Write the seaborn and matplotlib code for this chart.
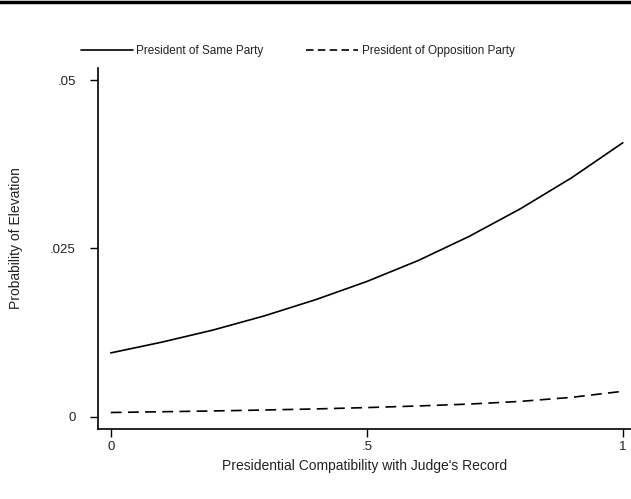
import numpy as np
import pandas as pd
import seaborn as sns
import matplotlib.pyplot as plt
from matplotlib.lines import Line2D

# values
compat = [0.0, 0.1, 0.2, 0.3, 0.4, 0.5, 0.6, 0.7, 0.8, 0.9, 1.0]
same_party = [0.0095, 0.0111, 0.0129, 0.0150, 0.0174, 0.0201, 0.0232, 0.0268, 0.0309, 0.0355, 0.0407]
opp_party = [0.00065, 0.00076, 0.00088, 0.00102, 0.00118, 0.00138, 0.00162, 0.0019, 0.0023, 0.0029, 0.0038]
x_ticks = [0, 0.5, 1]
x_tick_labels = ["0", ".5", "1"]
y_ticks = [0, 0.025, 0.05]
y_tick_labels = ["0", ".025", ".05"]

sns.set_theme(style="ticks")
plt.rcParams["font.family"] = ["Liberation Sans", "DejaVu Sans"]

df = pd.DataFrame({"compat": compat, "same": same_party, "opp": opp_party})

fig = plt.figure(figsize=(6.31, 4.99), dpi=100)
ax = fig.add_axes([98 / 631, 1 - 429 / 499, 1 - 98 / 631, (429 - 68) / 499])

sns.lineplot(data=df, x="compat", y="same", ax=ax, color="black", linewidth=1.2)
sns.lineplot(data=df, x="compat", y="opp", ax=ax, color="black", linewidth=1.2,
             linestyle=(0, (6.5, 3.8)))

ax.set_xlim(-0.025, 1.016)
ax.set_ylim(-0.0018, 0.0518)
ax.set_xticks(x_ticks)
ax.set_xticklabels(x_tick_labels)
ax.set_yticks(y_ticks)
ax.set_yticklabels(y_tick_labels)
ax.tick_params(axis="both", direction="out", length=6, width=1, colors="black",
               labelsize=9.5, labelcolor="#222222")
ax.tick_params(axis="y", pad=10)
ax.tick_params(axis="x", pad=3)
sns.despine(ax=ax)
for s in ["left", "bottom"]:
    ax.spines[s].set_linewidth(1.2)
    ax.spines[s].set_color("black")

ax.set_xlabel("Presidential Compatibility with Judge's Record", fontsize=10, color="#222222")
ax.set_ylabel("Probability of Elevation", fontsize=10, color="#222222")
ax.xaxis.set_label_coords((365 - 98) / 533, -(459 - 429) / 361)
ax.yaxis.set_label_coords(-(98 - 23) / 533, 0.53)

handles = [
    Line2D([], [], color="black", linewidth=1.2),
    Line2D([], [], color="black", linewidth=1.2, linestyle=(0, (4.5, 2.6))),
]
fig.legend(handles, ["President of Same Party", "President of Opposition Party"],
           loc="center left", bbox_to_anchor=(81 / 631, 1 - 51 / 499), ncol=2,
           frameon=False, fontsize=8.5, handlelength=4.4, handletextpad=0.3,
           columnspacing=3.6, borderpad=0, borderaxespad=0,
           labelcolor="#222222")

# heavy rule at the very top of the page
fig.add_artist(Line2D([0, 1], [1 - 1.5 / 499, 1 - 1.5 / 499], color="black",
                      linewidth=2.5, transform=fig.transFigure))

plt.savefig("out.png", dpi=100)
plt.close()
